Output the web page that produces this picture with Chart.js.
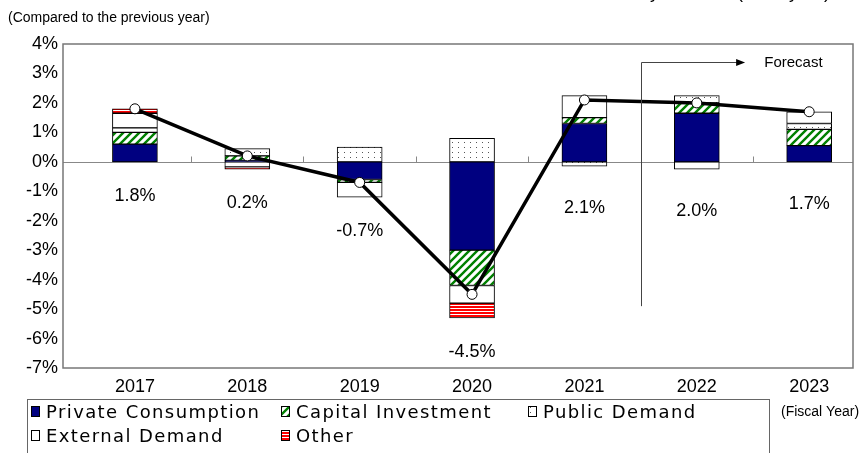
<!DOCTYPE html>
<html>
<head>
<meta charset="utf-8">
<script src="https://cdn.jsdelivr.net/npm/chart.js@4.4.0/dist/chart.umd.min.js"></script>
<style>
  html, body { margin: 0; padding: 0; background: #fff; overflow: hidden; }
  #wrap { width: 865px; height: 453px; }
</style>
</head>
<body>
<div id="wrap"><canvas id="gdpChart" width="865" height="453"></canvas></div>
<script>
// --- data (percentage points) ---
const years = ['2017', '2018', '2019', '2020', '2021', '2022', '2023'];
const privateConsumption = [0.6, 0.05, -0.6, -3.0, 1.3, 1.65, 0.55];
const capitalInvestment = [0.4, 0.15, -0.1, -1.2, 0.2, 0.35, 0.55];
const publicDemand = [0.15, 0.25, 0.5, 0.8, -0.15, 0.25, 0.2];
const externalDemand = [0.5, -0.17, -0.5, -0.6, 0.75, -0.25, 0.4];
const otherDemand = [0.15, -0.08, 0, -0.5, 0, 0, 0];
const growthRate = [1.8, 0.2, -0.7, -4.5, 2.1, 2.0, 1.7];
const yTickValues = [4, 3, 2, 1, 0, -1, -2, -3, -4, -5, -6, -7];
const forecastFrom = 4.5; // between 2021 and 2022

const seriesNames = ['Private Consumption', 'Capital Investment', 'Public Demand', 'External Demand', 'Other'];

// small pattern tiles for the bar fills
function makePattern(w, h, paint) {
    const c = document.createElement('canvas');
    c.width = w; c.height = h;
    const g = c.getContext('2d');
    g.fillStyle = '#fff';
    g.fillRect(0, 0, w, h);
    paint(g);
    return document.createElement('canvas').getContext('2d').createPattern(c, 'repeat');
}
const hatchGreen = makePattern(8, 8, g => {
    g.strokeStyle = '#008000';
    g.lineWidth = 2.4;
    g.beginPath();
    g.moveTo(-2, 10); g.lineTo(10, -2);
    g.moveTo(-6, 6); g.lineTo(6, -6);
    g.moveTo(2, 14); g.lineTo(14, 2);
    g.stroke();
});
const dotsGrey = makePattern(6, 5, g => {
    g.fillStyle = '#555';
    g.fillRect(2, 2, 1, 1);
});
const redStripes = makePattern(3, 3, g => {
    g.fillStyle = '#ff0000';
    g.fillRect(0, 0, 3, 2);
});
const fills = ['#000080', hatchGreen, dotsGrey, '#ffffff', redStripes];
const seriesValues = [privateConsumption, capitalInvestment, publicDemand, externalDemand, otherDemand];

const toPoints = arr => arr.map((v, i) => ({ x: i, y: v === 0 ? null : v }));

const barSets = seriesNames.map((name, k) => ({
    type: 'bar',
    label: name,
    data: toPoints(seriesValues[k]),
    backgroundColor: fills[k],
    borderColor: '#000',
    borderWidth: 1,
    borderSkipped: false,
    barThickness: 45,
    stack: 'demand',
    order: 1
}));

const lineSet = {
    type: 'line',
    label: 'Real GDP growth',
    data: growthRate.map((v, i) => ({ x: i, y: v })),
    borderColor: '#000',
    borderWidth: 3.5,
    pointRadius: 5,
    pointBackgroundColor: '#fff',
    pointBorderColor: '#000',
    pointBorderWidth: 1,
    tension: 0,
    stack: 'growth',
    order: 0
};

const BASE_FONT = "'Liberation Sans', Arial, sans-serif";
const LEGEND_FONT = "'DejaVu Sans', sans-serif";

// frame, zero line, boundary ticks
const backdropPlugin = {
    id: 'backdrop',
    beforeDatasetsDraw(chart) {
        const { ctx, chartArea: a, scales: { x, y } } = chart;
        ctx.save();
        const y0 = Math.round(y.getPixelForValue(0)) + 0.5;
        ctx.strokeStyle = '#888';
        ctx.lineWidth = 1;
        ctx.beginPath();
        ctx.moveTo(a.left, y0); ctx.lineTo(a.right, y0);
        for (let i = 0; i < years.length - 1; i++) {
            const bx = Math.round(x.getPixelForValue(i + 0.5)) + 0.5;
            ctx.moveTo(bx, y0); ctx.lineTo(bx, y0 - 6);
        }
        ctx.stroke();
        ctx.restore();
    },
    afterDraw(chart) {
        const { ctx, chartArea: a, scales: { x, y } } = chart;
        ctx.save();
        // plot frame
        ctx.strokeStyle = '#777';
        ctx.lineWidth = 1.5;
        ctx.strokeRect(a.left, a.top, a.right - a.left, a.bottom - a.top);

        // value labels under the bars
        ctx.fillStyle = '#000';
        ctx.font = '18px ' + BASE_FONT;
        ctx.textAlign = 'center';
        ctx.textBaseline = 'middle';
        growthRate.forEach((v, i) => {
            let neg = 0;
            seriesValues.forEach(s => { if (s[i] < 0) neg += s[i]; });
            const gap = i > forecastFrom - 1 ? 42 : 34;
            ctx.fillText(v.toFixed(1) + '%', x.getPixelForValue(i), y.getPixelForValue(neg) + gap);
        });

        // forecast marker
        const fx = Math.round(x.getPixelForValue(forecastFrom)) + 0.5;
        const fy = Math.round(y.getPixelForValue(3.4)) + 0.5;
        const tipX = x.getPixelForValue(5.43);
        ctx.strokeStyle = '#444';
        ctx.lineWidth = 1;
        ctx.beginPath();
        ctx.moveTo(fx, y.getPixelForValue(-4.9));
        ctx.lineTo(fx, fy);
        ctx.lineTo(tipX - 8, fy);
        ctx.stroke();
        ctx.fillStyle = '#000';
        ctx.beginPath();
        ctx.moveTo(tipX, fy);
        ctx.lineTo(tipX - 9, fy - 3.5);
        ctx.lineTo(tipX - 9, fy + 3.5);
        ctx.closePath();
        ctx.fill();
        ctx.font = '15px ' + BASE_FONT;
        ctx.textAlign = 'left';
        ctx.fillText('Forecast', x.getPixelForValue(5.6), fy);

        // headings (title is cut off at the top edge)
        ctx.font = '18px ' + BASE_FONT;
        ctx.textAlign = 'right';
        ctx.textBaseline = 'alphabetic';
        ctx.fillText('Real GDP Growth Rate and Contributions by Demand (fiscal year)', 830, -2);
        ctx.font = '14px ' + BASE_FONT;
        ctx.textAlign = 'left';
        ctx.textBaseline = 'middle';
        ctx.fillText('(Compared to the previous year)', 8, 18);
        ctx.fillText('(Fiscal Year)', 781, 412);

        // legend box
        ctx.strokeStyle = '#666';
        ctx.lineWidth = 1;
        ctx.strokeRect(27.5, 399.5, 742, 70);
        const cols = [31, 281, 528];
        const rows = [412, 436];
        ctx.font = '18px ' + LEGEND_FONT;
        ctx.letterSpacing = '1.4px';
        seriesNames.forEach((name, k) => {
            const lx = cols[k % 3];
            const ly = rows[Math.floor(k / 3)];
            ctx.fillStyle = fills[k];
            ctx.fillRect(lx, ly - 6, 9, 11);
            ctx.strokeStyle = '#000';
            ctx.strokeRect(lx + 0.5, ly - 5.5, 8, 10);
            ctx.fillStyle = '#000';
            ctx.fillText(name, lx + 15, ly + 1);
        });
        ctx.restore();
    }
};

new Chart(document.getElementById('gdpChart'), {
    data: { datasets: [lineSet, ...barSets] },
    options: {
        responsive: false,
        animation: false,
        layout: { padding: { top: 44, right: 12, bottom: 55, left: 0 } },
        plugins: { legend: { display: false }, tooltip: { enabled: false } },
        scales: {
            x: {
                type: 'linear',
                stacked: true,
                offset: false,
                min: -0.64,
                max: 6.39,
                afterBuildTicks: s => { s.ticks = years.map((_, i) => ({ value: i })); },
                afterFit: s => { s.height = 30; },
                grid: { display: false, drawTicks: false, offset: false },
                border: { display: false },
                ticks: {
                    color: '#000',
                    padding: 8,
                    maxRotation: 0,
                    autoSkip: false,
                    font: { family: BASE_FONT, size: 18 },
                    callback: v => years[v]
                }
            },
            y: {
                stacked: true,
                min: -7,
                max: 4,
                afterBuildTicks: s => { s.ticks = yTickValues.map(v => ({ value: v })); },
                afterFit: s => { s.width = 63; },
                grid: { display: false, drawTicks: false },
                border: { display: false },
                ticks: {
                    color: '#000',
                    padding: 5,
                    font: { family: BASE_FONT, size: 18 },
                    callback: v => v + '%'
                }
            }
        }
    },
    plugins: [backdropPlugin]
});
</script>
</body>
</html>
